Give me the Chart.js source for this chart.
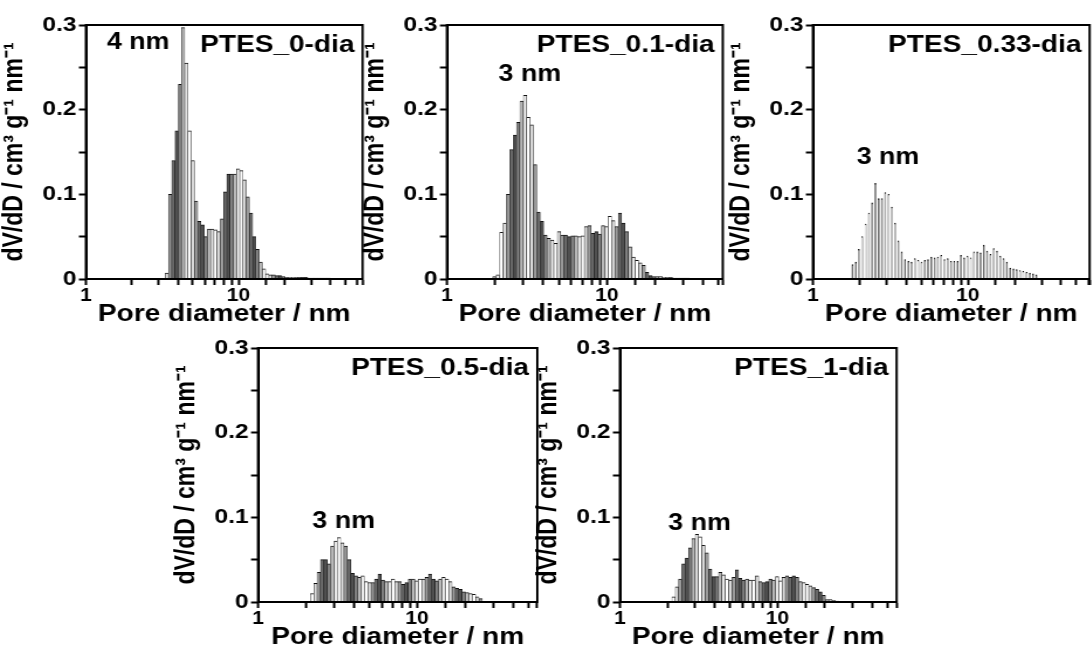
<!DOCTYPE html>
<html>
<head>
<meta charset="utf-8">
<script src="https://cdn.jsdelivr.net/npm/chart.js@4.4.1/dist/chart.umd.min.js"></script>
<style>
  html, body { margin: 0; padding: 0; background: #fff; overflow: hidden; }
  #wrap { position: relative; width: 1092px; height: 655px; overflow: hidden; }
  canvas { position: absolute; }
</style>
</head>
<body>
<div id="wrap"></div>
<script>
// pore diameter bins (nm), shared by all samples
const diameters = [1.80, 1.89, 1.98, 2.08, 2.19, 2.30, 2.41, 2.53, 2.66, 2.79,
  2.93, 3.08, 3.23, 3.39, 3.56, 3.74, 3.93, 4.13, 4.33, 4.55,
  4.78, 5.02, 5.27, 5.53, 5.81, 6.10, 6.40, 6.72, 7.06, 7.41,
  7.78, 8.17, 8.58, 9.01, 9.46, 9.93, 10.43, 10.95, 11.49, 12.07,
  12.67, 13.30, 13.97, 14.67, 15.40, 16.17, 16.98, 17.83, 18.72, 19.66,
  20.64, 21.67, 22.76, 23.89, 25.09, 26.34, 27.66, 29.04, 30.49, 32.02,
  33.62, 35.30, 37.06, 38.92, 40.86, 42.91, 45.05, 47.30, 49.67];

// dV/dD (cm3 g-1 nm-1) per bin
const dia_0 = [0, 0, 0, 0, 0, 0, 0, 0, 0, 0,
  0, 0, 0, 0.007, 0.10, 0.14, 0.175, 0.23, 0.297, 0.255,
  0.175, 0.14, 0.092, 0.068, 0.064, 0.05, 0.059, 0.059, 0.058, 0.056,
  0.071, 0.103, 0.124, 0.124, 0.124, 0.13, 0.128, 0.117, 0.097, 0.078,
  0.05, 0.035, 0.02, 0.012, 0.006, 0.005, 0.005, 0.004, 0.004, 0.003,
  0.002, 0.002, 0.002, 0.002, 0.002, 0.002, 0.002, 0.001, 0.001, 0.001,
  0.001, 0.001, 0.001, 0.001, 0, 0, 0, 0, 0];
const dia_01 = [0, 0, 0.003, 0.005, 0.055, 0.066, 0.10, 0.153, 0.17, 0.185,
  0.21, 0.217, 0.191, 0.182, 0.135, 0.079, 0.068, 0.052, 0.048, 0.046,
  0.042, 0.056, 0.052, 0.052, 0.05, 0.051, 0.051, 0.05, 0.051, 0.062,
  0.063, 0.054, 0.056, 0.053, 0.063, 0.062, 0.074, 0.069, 0.062, 0.078,
  0.066, 0.056, 0.038, 0.026, 0.022, 0.019, 0.016, 0.008, 0.004, 0.003,
  0.003, 0.003, 0.002, 0.002, 0.002, 0.001, 0.001, 0.001, 0.001, 0.001,
  0, 0, 0, 0, 0, 0, 0, 0, 0];
const dia_033 = [0.017, 0.02, 0.035, 0.05, 0.065, 0.078, 0.09, 0.113, 0.095, 0.095,
  0.102, 0.10, 0.085, 0.066, 0.045, 0.032, 0.023, 0.021, 0.02, 0.024,
  0.022, 0.02, 0.022, 0.023, 0.026, 0.025, 0.026, 0.028, 0.023, 0.024,
  0.021, 0.021, 0.021, 0.028, 0.025, 0.027, 0.025, 0.032, 0.032, 0.031,
  0.04, 0.033, 0.029, 0.036, 0.033, 0.027, 0.024, 0.02, 0.013, 0.012,
  0.011, 0.01, 0.009, 0.008, 0.007, 0.006, 0.005, 0, 0, 0,
  0, 0, 0, 0, 0, 0, 0, 0, 0];
const dia_05 = [0, 0, 0, 0, 0.01, 0.022, 0.035, 0.05, 0.05, 0.045,
  0.066, 0.072, 0.076, 0.07, 0.066, 0.05, 0.034, 0.031, 0.029, 0.031,
  0.024, 0.023, 0.023, 0.027, 0.033, 0.026, 0.024, 0.024, 0.027, 0.024,
  0.024, 0.021, 0.023, 0.027, 0.027, 0.025, 0.027, 0.027, 0.029, 0.033,
  0.027, 0.025, 0.027, 0.029, 0.027, 0.024, 0.018, 0.016, 0.015, 0.012,
  0.011, 0.01, 0.009, 0.006, 0.004, 0, 0, 0, 0, 0,
  0, 0, 0, 0, 0, 0, 0, 0, 0];
const dia_1 = [0, 0, 0, 0, 0.006, 0.018, 0.027, 0.045, 0.052, 0.064,
  0.075, 0.08, 0.077, 0.067, 0.058, 0.039, 0.03, 0.03, 0.035, 0.032,
  0.027, 0.026, 0.029, 0.038, 0.028, 0.026, 0.027, 0.026, 0.026, 0.031,
  0.024, 0.023, 0.024, 0.027, 0.026, 0.03, 0.025, 0.029, 0.031, 0.029,
  0.031, 0.029, 0.024, 0.023, 0.021, 0.019, 0.017, 0.015, 0.012, 0.008,
  0.003, 0.003, 0.002, 0.001, 0, 0, 0, 0, 0, 0,
  0, 0, 0, 0, 0, 0, 0, 0, 0];

const seriesValues = [dia_0, dia_01, dia_033, dia_05, dia_1];
const sampleNames = ['PTES_0-dia', 'PTES_0.1-dia', 'PTES_0.33-dia', 'PTES_0.5-dia', 'PTES_1-dia'];
const peakLabels = ['4 nm', '3 nm', '3 nm', '3 nm', '3 nm'];
const peakLabelX = [2.2, 3.3, 3.05, 3.45, 3.2];
const peakLabelY = [0.279, 0.241, 0.143, 0.095, 0.092];
const xMax = [65, 53, 61, 57, 57];
const xTickLabels = [1, 10];
const yTickLabels = [0, 0.1, 0.2, 0.3];

// the source figure is drawn a bit wide, so every canvas is stretched sideways
const STRETCH = 1.17;
const panels = [
  {plotLeft: 86, plotTop: 25, plotW: 277},
  {plotLeft: 447, plotTop: 25, plotW: 276},
  {plotLeft: 813, plotTop: 25, plotW: 277},
  {plotLeft: 258, plotTop: 348, plotW: 279},
  {plotLeft: 620, plotTop: 348, plotW: 277}
];
const AXIS_W = 86, AXIS_H = 50, PLOT_H = 254, TOP_PAD = 25;
const shades = ['#505050', '#808080', '#b8b8b8', '#e8e8e8', '#ffffff', '#d8d8d8', '#9a9a9a', '#686868'];
const FONT = '"Liberation Sans", Arial, sans-serif';

Chart.defaults.font.family = FONT;
Chart.defaults.font.weight = 'bold';
Chart.defaults.color = '#000';

const panelText = {
  id: 'panelText',
  afterDatasetsDraw(chart, args, opts) {
    const {ctx, chartArea, scales} = chart;
    ctx.save();
    ctx.strokeStyle = '#000';
    ctx.lineWidth = 2;
    ctx.strokeRect(chartArea.left, chartArea.top, chartArea.right - chartArea.left, chartArea.bottom - chartArea.top);
    ctx.fillStyle = '#000';
    ctx.font = 'bold 24px ' + FONT;
    ctx.textAlign = 'right';
    ctx.textBaseline = 'middle';
    ctx.fillText(opts.name, chartArea.right - 7, chartArea.top + 20);
    ctx.font = 'bold 23px ' + FONT;
    ctx.textAlign = 'center';
    ctx.fillText(opts.peak, scales.x.getPixelForValue(opts.peakX), scales.y.getPixelForValue(opts.peakY));
    // decade labels under the log axis
    ctx.font = 'bold 18px ' + FONT;
    xTickLabels.forEach(v => {
      ctx.fillText(String(v), scales.x.getPixelForValue(v), chartArea.bottom + 17);
    });
    ctx.restore();
  }
};

const wrap = document.getElementById('wrap');

panels.forEach((p, i) => {
  const canvas = document.createElement('canvas');
  const intW = Math.ceil((AXIS_W + p.plotW + 4) / STRETCH);
  const h = TOP_PAD + PLOT_H + AXIS_H;
  canvas.width = intW;
  canvas.height = h;
  canvas.style.left = (p.plotLeft - AXIS_W) + 'px';
  canvas.style.top = (p.plotTop - TOP_PAD) + 'px';
  canvas.style.width = (intW * STRETCH) + 'px';
  canvas.style.height = h + 'px';
  wrap.appendChild(canvas);

  const points = [];
  const colors = [];
  diameters.forEach((d, k) => {
    if (seriesValues[i][k] > 0) {
      points.push({x: d, y: seriesValues[i][k]});
      colors.push(shades[k % shades.length]);
    }
  });

  new Chart(canvas, {
    type: 'bar',
    data: {
      datasets: [{
        data: points,
        backgroundColor: colors,
        borderColor: '#111',
        borderWidth: {top: 1, left: 0.5, right: 0.5, bottom: 0},
        barPercentage: 1,
        categoryPercentage: 1
      }]
    },
    options: {
      responsive: false,
      animation: false,
      devicePixelRatio: 1,
      layout: {padding: {top: TOP_PAD, left: 0, bottom: 0, right: intW - (AXIS_W + p.plotW) / STRETCH}},
      plugins: {
        legend: {display: false},
        tooltip: {enabled: false},
        panelText: {name: sampleNames[i], peak: peakLabels[i], peakX: peakLabelX[i], peakY: peakLabelY[i]}
      },
      scales: {
        x: {
          type: 'logarithmic',
          min: 1,
          max: xMax[i],
          offset: false,
          afterFit: s => { s.height = AXIS_H; },
          border: {display: true, color: '#000', width: 2},
          grid: {offset: false, drawOnChartArea: false, drawTicks: true, tickLength: 6, tickWidth: 2, tickColor: '#000'},
          ticks: {
            autoSkip: false, maxRotation: 0, minRotation: 0,
            callback: () => ''
          },
          title: {
            display: true, text: 'Pore diameter / nm',
            font: {size: 24, weight: 'bold', lineHeight: 1},
            padding: {top: 0, bottom: 3}
          }
        },
        y: {
          min: 0,
          max: 0.3,
          afterFit: s => { s.width = AXIS_W / STRETCH; },
          border: {display: true, color: '#000', width: 2},
          grid: {drawOnChartArea: false, drawTicks: true, tickLength: 6, tickWidth: 2, tickColor: '#000'},
          ticks: {
            stepSize: 0.05, autoSkip: false, padding: 2,
            font: {size: 21, weight: 'bold', lineHeight: 1},
            callback: v => {
              const hit = yTickLabels.find(t => Math.abs(t - v) < 1e-6);
              if (hit === undefined) return '';
              return hit === 0 ? '0' : hit.toFixed(1);
            }
          },
          title: {
            display: true, text: 'dV/dD / cm³ g⁻¹ nm⁻¹',
            font: {size: 23, weight: 'bold', lineHeight: 1},
            padding: {top: 1, bottom: 0}
          }
        }
      }
    },
    plugins: [panelText]
  });
});
</script>
</body>
</html>
